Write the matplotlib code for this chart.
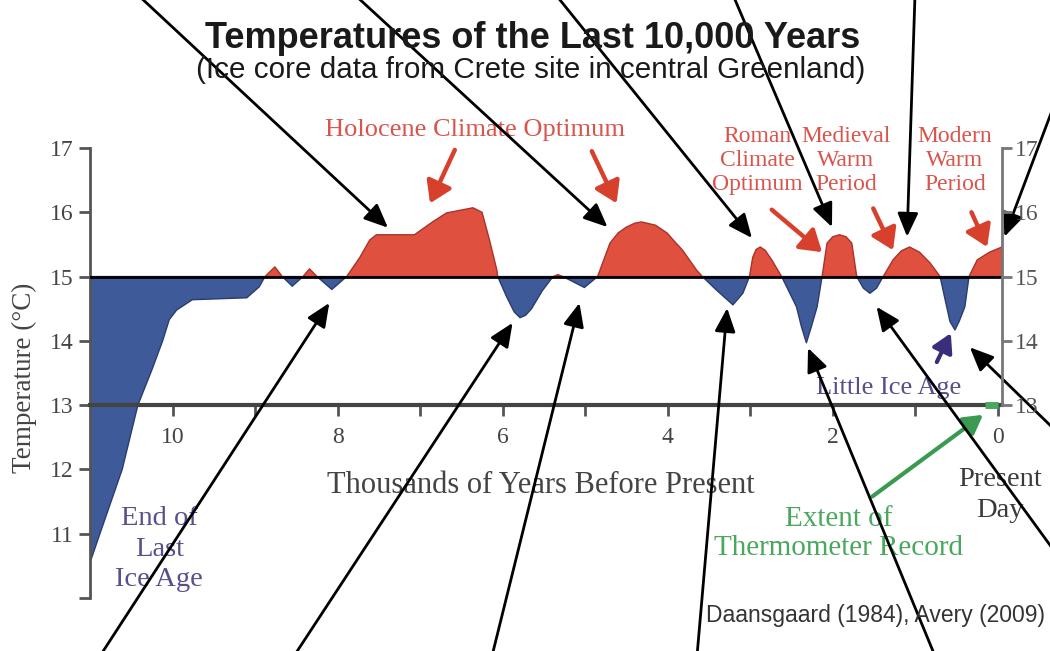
import matplotlib
matplotlib.use("Agg")
import matplotlib.pyplot as plt
import numpy as np

# Greenland ice core record (thousands of years BP, deg C)
years_kbp = [11.0, 10.88, 10.61, 10.42, 10.25, 10.12, 10.04, 9.95, 9.76, 9.10, 8.95,
             8.88, 8.76, 8.67, 8.55, 8.42, 8.34, 8.25, 8.07, 7.89, 7.73,
             7.61, 7.53, 7.07, 6.85, 6.68, 6.36, 6.25, 6.16, 6.07, 6.06, 5.95,
             5.86, 5.79, 5.72, 5.65, 5.52, 5.39, 5.33, 5.27, 5.01, 4.85, 4.70,
             4.60, 4.50, 4.40, 4.32, 4.15, 4.01, 3.92, 3.82, 3.65, 3.58, 3.41,
             3.21, 3.09, 3.01, 2.97, 2.93, 2.88, 2.82, 2.74, 2.62, 2.44, 2.38,
             2.32, 2.26, 2.19, 2.13, 2.07, 2.00, 1.92, 1.84, 1.77, 1.71, 1.63,
             1.55, 1.47, 1.39, 1.27, 1.17, 1.07, 0.95, 0.82, 0.70, 0.62, 0.58,
             0.52, 0.47, 0.40, 0.35, 0.25, 0.10, -0.05]
temps = [10.55, 11.0, 12.0, 13.0, 13.55, 14.0, 14.33, 14.48, 14.64, 14.67, 14.84,
         15.0, 15.15, 15.0, 14.85, 15.0, 15.12, 15.0, 14.8, 15.0, 15.3,
         15.57, 15.65, 15.65, 15.85, 15.99, 16.07, 16.0, 15.57, 15.1, 15.0, 14.68,
         14.45, 14.36, 14.4, 14.5, 14.78, 15.0, 15.03, 15.0, 14.83, 15.0, 15.52,
         15.68, 15.77, 15.83, 15.85, 15.8, 15.68, 15.55, 15.41, 15.1, 15.0, 14.79,
         14.56, 14.74, 15.0, 15.3, 15.42, 15.46, 15.41, 15.26, 15.0, 14.53, 14.22,
         13.97, 14.22, 14.53, 15.0, 15.52, 15.62, 15.65, 15.62, 15.52, 15.0, 14.82,
         14.74, 14.82, 15.0, 15.26, 15.4, 15.46, 15.38, 15.21, 15.0, 14.53, 14.3,
         14.17, 14.3, 14.53, 15.0, 15.26, 15.38, 15.46]
baseline = 15.0

# black overlay arrows: tip on the curve (kyr, degC), tail at the image edge (figure px)
black_tips = [(7.39, 15.76), (4.73, 15.77), (2.98, 15.60), (2.01, 15.77), (1.10, 15.62),
              (-0.08, 15.62), (8.10, 14.59), (5.88, 14.28), (5.07, 14.59), (3.28, 14.51),
              (2.30, 13.89), (1.47, 14.53), (0.34, 13.90)]
black_tails = [(138, 656), (355, 656), (556, 656), (733, 656), (915, 656),
               (1053, 543), (100, -5), (294, -5), (492, -5), (697, -5),
               (935, -5), (1055, 99), (1055, 221)]

# red period labels and their arrows
red_labels = ["Roman\nClimate\nOptimum", "Medieval\nWarm\nPeriod", "Modern\nWarm\nPeriod"]
red_label_pos = [(2.91, 16.81), (1.84, 16.81), (0.52, 16.81)]
red_arrow_tips = [(6.88, 16.14), (4.62, 16.14), (2.13, 15.38), (1.27, 15.41), (0.13, 15.46)]
red_arrow_tails = [(6.58, 16.97), (4.92, 16.95), (2.74, 16.04), (1.51, 16.06), (0.32, 16.00)]

RED = "#e0503f"
BLUE = "#3e5a98"
RED_TXT = "#d9554c"
PURPLE = "#5b4d8c"
GREEN = "#4aa85e"
SERIF = "Liberation Serif"
SANS = "Liberation Sans"

fig = plt.figure(figsize=(10.5, 6.51), dpi=100)
ax = fig.add_axes([90 / 1050, 53 / 651, 912 / 1050, 450 / 651])

t = np.array(years_kbp)
T = np.array(temps)
ax.fill_between(t, T, baseline, where=T >= baseline, interpolate=True,
                facecolor=RED, edgecolor="#a8332a", linewidth=1.0, zorder=2)
ax.fill_between(t, T, baseline, where=T <= baseline, interpolate=True,
                facecolor=BLUE, edgecolor="#2a3c6e", linewidth=1.0, zorder=2)
ax.axhline(baseline, color="black", lw=2, zorder=3)

ax.set_xlim(11.0, -0.05)
ax.set_ylim(10, 17)

# axes styling: x axis sits on the 13 degree line
for side in ["top", "right"]:
    ax.spines[side].set_visible(False)
ax.spines["bottom"].set_position(("data", 13))
ax.spines["bottom"].set_color("#444444")
ax.spines["bottom"].set_linewidth(3)
ax.spines["bottom"].set_zorder(4)
ax.spines["left"].set_color("#555555")
ax.spines["left"].set_linewidth(2)

ax.set_xticks([10, 8, 6, 4, 2, 0])
ax.set_xticks([9, 7, 5, 3, 1], minor=True)
ax.set_xticklabels(["10", "8", "6", "4", "2", "0"])
ax.set_yticks([10, 11, 12, 13, 14, 15, 16, 17])
ax.set_yticklabels(["", "11", "12", "13", "14", "15", "16", "17"])
ax.tick_params(axis="x", which="both", direction="out", length=8, width=2,
               color="#555555", pad=8, labelsize=17, labelcolor="#444444")
ax.tick_params(axis="y", direction="out", length=8, width=2, color="#555555",
               pad=4, labelsize=17, labelcolor="#444444")
for lab in ax.get_xticklabels() + ax.get_yticklabels():
    lab.set_family(SERIF)

ax.set_xlabel("Thousands of Years Before Present", family=SERIF, fontsize=22,
              color="#444444", labelpad=16)
ax.xaxis.label.set_position((0.494, 0))
ax.set_ylabel("Temperature (°C)", family=SERIF, fontsize=19.5, color="#444444")
ax.yaxis.set_label_coords(-0.058, 0.49)

# right axis only from 13 to 17
rax = ax.twinx()
rax.set_ylim(10, 17)
for side in ["top", "left", "bottom"]:
    rax.spines[side].set_visible(False)
rax.spines["right"].set_bounds(13, 17)
rax.spines["right"].set_color("#777777")
rax.spines["right"].set_linewidth(2)
rax.set_yticks([13, 14, 15, 16, 17])
rax.tick_params(axis="y", direction="out", length=7, width=2, color="#777777",
                pad=2, labelsize=17, labelcolor="#555555")
for lab in rax.get_yticklabels():
    lab.set_family(SERIF)

# thermometer record on the x axis
ax.plot([0.15, 0.0], [13, 13], color=GREEN, lw=5, solid_capstyle="butt", zorder=5)

# red labels and arrows
ax.text(6.33, 17.28, "Holocene Climate Optimum", family=SERIF, fontsize=19,
        color=RED_TXT, ha="center", va="center")
for text, (x, y) in zip(red_labels, red_label_pos):
    ax.text(x, y, text, family=SERIF, fontsize=17, color=RED_TXT,
            ha="center", va="center", linespacing=1.18)
for tip, tail in zip(red_arrow_tips, red_arrow_tails):
    ax.annotate("", xy=tip, xytext=tail, annotation_clip=False,
                arrowprops=dict(arrowstyle="-|>,head_length=0.7,head_width=0.45",
                                mutation_scale=18, lw=3.2, color="#d8402e",
                                shrinkA=0, shrinkB=0))

ax.text(1.32, 13.27, "Little Ice Age", family=SERIF, fontsize=19, color=PURPLE,
        ha="center", va="center")
ax.annotate("", xy=(0.57, 14.12), xytext=(0.74, 13.67),
            arrowprops=dict(arrowstyle="-|>,head_length=0.7,head_width=0.4",
                            mutation_scale=16, lw=3, color="#3b2d7a",
                            shrinkA=0, shrinkB=0))
ax.text(10.16, 10.76, "End of\nLast\nIce Age", family=SERIF, fontsize=20.5,
        color=PURPLE, ha="center", va="center", linespacing=1.3)
ax.text(-0.02, 11.6, "Present\nDay", family=SERIF, fontsize=20.5, color="#3a3a3a",
        ha="center", va="center", linespacing=1.35)
ax.text(1.93, 11.0, "Extent of\nThermometer Record", family=SERIF, fontsize=21,
        color=GREEN, ha="center", va="center", linespacing=1.15)
ax.annotate("", xy=(0.18, 12.85), xytext=(1.52, 11.58),
            arrowprops=dict(arrowstyle="-|>,head_length=0.7,head_width=0.4",
                            mutation_scale=16, lw=3, color="#3a9a52",
                            shrinkA=0, shrinkB=0))

# titles and source
fig.text(0.507, 0.9416, "Temperatures of the Last 10,000 Years", family=SANS,
         fontweight="bold", fontsize=26, color="#1a1a1a", ha="center", va="center")
fig.text(0.505, 0.8925, "(Ice core data from Crete site in central Greenland)",
         family=SANS, fontsize=21.3, color="#1a1a1a", ha="center", va="center")
fig.text(0.995, 0.0538, "Daansgaard (1984), Avery (2009)", family=SANS,
         fontsize=16.5, color="#333333", ha="right", va="center")

# black overlay arrows from the image edges
for tip, tail in zip(black_tips, black_tails):
    ax.annotate("", xy=tip, xycoords="data", xytext=tail, textcoords="figure pixels",
                annotation_clip=False, zorder=10,
                arrowprops=dict(arrowstyle="-|>,head_length=0.8,head_width=0.35",
                                mutation_scale=18, lw=2, color="black",
                                shrinkA=0, shrinkB=0))

fig.savefig("out.png", dpi=100)
